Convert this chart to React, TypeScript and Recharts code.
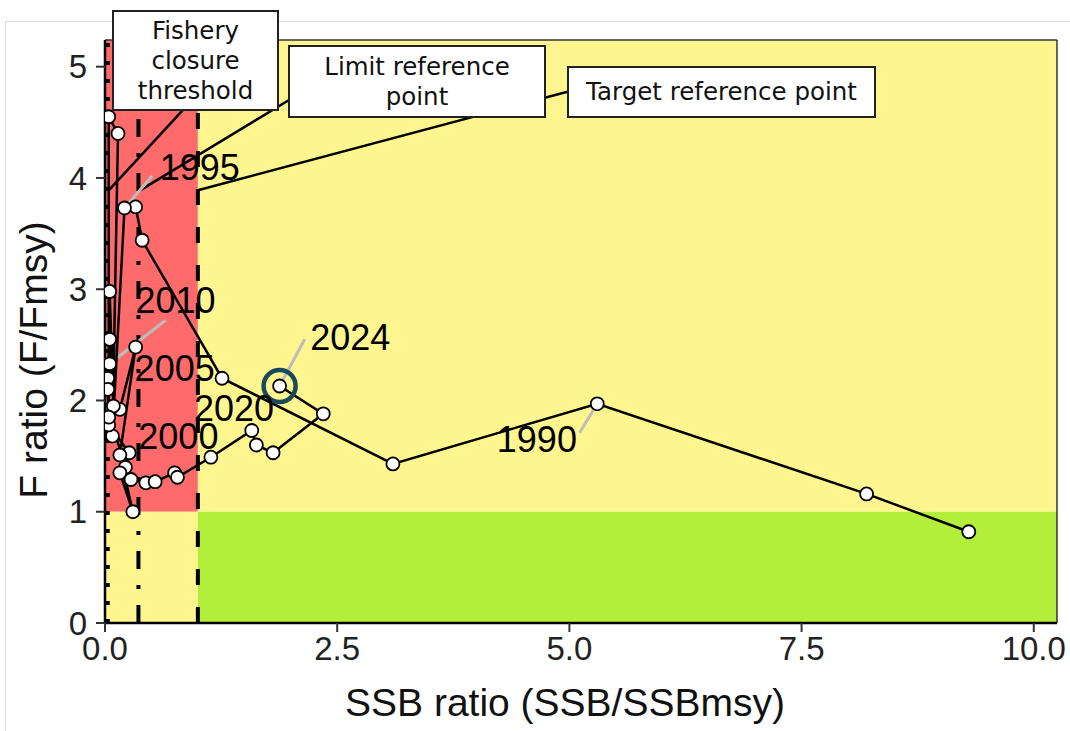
import { ComposedChart, Line, Scatter, XAxis, YAxis, ReferenceArea, ReferenceLine, ReferenceDot } from 'recharts'

// stock trajectory, 1988-2024
const years = [
  1988, 1989, 1990, 1991, 1992, 1993, 1994, 1995, 1996, 1997, 1998, 1999,
  2000, 2001, 2002, 2003, 2004, 2005, 2006, 2007, 2008, 2009, 2010, 2011,
  2012, 2013, 2014, 2015, 2016, 2017, 2018, 2019, 2020, 2021, 2022, 2023, 2024,
]
const ssbRatio = [
  9.3, 8.2, 5.3, 3.1, 1.26, 0.4, 0.33, 0.21, 0.08, 0.14, 0.04, 0.04,
  0.26, 0.22, 0.16, 0.3, 0.16, 0.33, 0.16, 0.09, 0.05, 0.05, 0.05, 0.03,
  0.03, 0.04, 0.28, 0.44, 0.54, 0.75, 0.78, 1.14, 1.58, 1.63, 1.81, 2.35, 1.88,
]
const fRatio = [
  0.82, 1.16, 1.97, 1.43, 2.2, 3.44, 3.74, 3.73, 1.68, 4.4, 4.55, 1.78,
  1.53, 1.4, 1.35, 1.0, 1.51, 2.48, 1.92, 1.95, 2.98, 2.55, 2.33, 2.2,
  2.1, 1.85, 1.29, 1.26, 1.27, 1.35, 1.31, 1.49, 1.73, 1.6, 1.53, 1.88, 2.13,
]

const xTicks = [0, 2.5, 5, 7.5, 10]
const yTicks = [0, 1, 2, 3, 4, 5]
const X_MAX = 10.25
const Y_MAX = 5.24

// reference points on SSB ratio
const closureLine = 0.03
const limitLine = 0.36
const targetLine = 1

// year labels (anchor of text) and their repel segments
const labelYears = [1990, 1995, 2000, 2005, 2010, 2020, 2024]
const labelX = [4.65, 1.02, 0.79, 0.75, 0.76, 1.39, 2.64]
const labelY = [1.65, 4.09, 1.68, 2.29, 2.9, 1.93, 2.57]
const segYears = [1990, 1995, 2010, 2024]
const segEndX = [5.11, 0.51, 0.65, 2.15]
const segEndY = [1.71, 4.02, 2.72, 2.55]

const data = years.map((year, i) => ({ year, ssb: ssbRatio[i], f: fRatio[i] }))
const labels = labelYears.map((year, i) => ({ year, ssb: labelX[i], f: labelY[i] }))
const segments = segYears.map((yr, i) => {
  const d = data.find((p) => p.year === yr)!
  return { yr, from: { x: d.ssb, y: d.f }, to: { x: segEndX[i], y: segEndY[i] } }
})

const last = data[data.length - 1]

const ARIAL = "'Liberation Sans', Arial, sans-serif"
const BOXFONT = "'DejaVu Sans', sans-serif"

function YearText(props: any) {
  const { cx, cy, payload } = props
  return (
    <text x={cx} y={cy} textAnchor="middle" dominantBaseline="central" fontSize={36} fontFamily={ARIAL} fill="#000">
      {payload.year}
    </text>
  )
}

const boxStyle: React.CSSProperties = {
  position: 'absolute', background: '#fff', border: '2px solid #222', boxSizing: 'border-box',
  fontFamily: BOXFONT, fontSize: 24.5, lineHeight: '30px', color: '#111',
  textAlign: 'center', display: 'flex', alignItems: 'center', justifyContent: 'center', whiteSpace: 'nowrap',
}

export default function App() {
  const tickStyle = { fontSize: 33, fill: '#222', fontFamily: ARIAL }
  return (
    <div style={{ position: 'absolute', left: 0, top: 0, width: 1070, height: 731, background: '#fff', overflow: 'hidden' }}>
      <div style={{ position: 'absolute', left: 5, top: 21, width: 1200, height: 900, border: '1px solid #dcdcdc' }} />
      <ComposedChart width={1070} height={731} data={data} margin={{ top: 40, right: 13, bottom: 58, left: 45 }}>
        <XAxis type="number" dataKey="ssb" domain={[0, X_MAX]} ticks={xTicks} allowDataOverflow
          tickFormatter={(v: number) => v.toFixed(1)} tick={tickStyle} tickSize={9} tickMargin={5}
          axisLine={{ stroke: '#000', strokeWidth: 2.5 }} tickLine={{ stroke: '#333', strokeWidth: 2 }} height={50} />
        <YAxis type="number" domain={[0, Y_MAX]} ticks={yTicks} allowDataOverflow
          tick={tickStyle} tickSize={9} tickMargin={9}
          axisLine={{ stroke: '#000', strokeWidth: 2.5 }} tickLine={{ stroke: '#333', strokeWidth: 2 }} width={60} />

        <ReferenceArea x1={0} x2={targetLine} y1={1} y2={Y_MAX} fill="#FF6A6A" fillOpacity={1} stroke="none" ifOverflow="visible" />
        <ReferenceArea x1={targetLine} x2={X_MAX} y1={1} y2={Y_MAX} fill="#FFF68F" fillOpacity={1} stroke="none" ifOverflow="visible" />
        <ReferenceArea x1={0} x2={targetLine} y1={0} y2={1} fill="#FFF68F" fillOpacity={1} stroke="none" ifOverflow="visible" />
        <ReferenceArea x1={targetLine} x2={X_MAX} y1={0} y2={1} fill="#B3EE3A" fillOpacity={1} stroke="none" ifOverflow="visible" />

        <ReferenceLine y={Y_MAX} stroke="#333" strokeWidth={1.5} ifOverflow="visible" />
        <ReferenceLine x={X_MAX} stroke="#333" strokeWidth={1.5} ifOverflow="visible" />

        <ReferenceLine x={closureLine} stroke="#000" strokeWidth={4} strokeDasharray="4 14" ifOverflow="visible" />
        <ReferenceLine x={limitLine} stroke="#000" strokeWidth={4} strokeDasharray="18 16 4 16" ifOverflow="visible" />
        <ReferenceLine x={targetLine} stroke="#000" strokeWidth={4} strokeDasharray="16 22" ifOverflow="visible" />

        {/* annotation leaders */}
        <ReferenceLine segment={[{ x: 0.03, y: 3.88 }, { x: 0.86, y: 4.63 }]} stroke="#000" strokeWidth={2.5} ifOverflow="visible" />
        <ReferenceLine segment={[{ x: limitLine, y: 3.88 }, { x: 2.0, y: 4.71 }]} stroke="#000" strokeWidth={2.5} ifOverflow="visible" />
        <ReferenceLine segment={[{ x: targetLine, y: 3.89 }, { x: 5.0, y: 4.78 }]} stroke="#000" strokeWidth={2.5} ifOverflow="visible" />

        {segments.map((s) => (
          <ReferenceLine key={s.yr} segment={[s.from, s.to]} stroke="#bdbdbd" strokeWidth={3} ifOverflow="visible" />
        ))}

        <Line dataKey="f" stroke="#000" strokeWidth={2.5} isAnimationActive={false} activeDot={false}
          dot={{ r: 6.5, fill: '#fff', stroke: '#000', strokeWidth: 1.8 }} />
        <ReferenceDot x={last.ssb} y={last.f} r={16} fill="none" stroke="#174b5c" strokeWidth={4.5} ifOverflow="visible" />
        <Scatter data={labels} dataKey="f" shape={YearText} isAnimationActive={false} />
      </ComposedChart>

      <div style={{ ...boxStyle, left: 112, top: 10, width: 167, height: 101 }}>Fishery<br />closure<br />threshold</div>
      <div style={{ ...boxStyle, left: 288, top: 45, width: 258, height: 73 }}>Limit reference<br />point</div>
      <div style={{ ...boxStyle, left: 567, top: 66, width: 309, height: 52 }}>Target reference point</div>

      <div style={{ position: 'absolute', left: 0, width: 1130, top: 680, textAlign: 'center', fontFamily: ARIAL, fontSize: 39, color: '#111', lineHeight: '46px' }}>
        SSB ratio (SSB/SSBmsy)
      </div>
      <div style={{ position: 'absolute', left: 34, top: 360, transform: 'translate(-50%, -50%) rotate(-90deg)', whiteSpace: 'nowrap', fontFamily: ARIAL, fontSize: 39, color: '#111', lineHeight: '46px' }}>
        F ratio (F/Fmsy)
      </div>
    </div>
  )
}
